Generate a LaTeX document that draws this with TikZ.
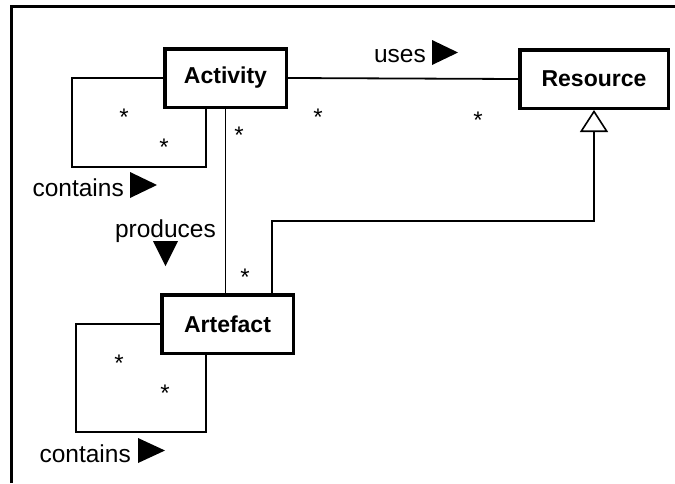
\documentclass[tikz,border=0pt]{standalone}
\usepackage{fontspec}
\setmainfont{Liberation Sans}
\usetikzlibrary{arrows.meta}
\begin{document}
\begin{tikzpicture}[x=1pt,y=-1pt,
  classbox/.style={draw, line width=3.5pt, inner sep=0pt, minimum height=58.5pt,
    font=\fontsize{23}{27}\selectfont\bfseries},
  link/.style={line width=1.8pt},
  rolename/.style={inner sep=0pt, anchor=base east, font=\fontsize{24.5}{28}\selectfont},
  mult/.style={inner sep=0pt, anchor=base, font=\fontsize{24}{28}\selectfont},
  dirmark/.style={fill=black},
  generalize/.style={link, -{Triangle[open, length=22pt, width=28pt, line width=1.6pt]}}
]
\useasboundingbox (0,0) rectangle (675,483);

% frame edges
\draw[line width=2.8pt] (11.5,483) -- (11.5,6.5) -- (675,6.5);

% classes
\node[classbox, minimum width=121.5pt] (activity) at (225.5,78) {Activity};
\node[classbox, minimum width=148.5pt] (resource) at (594,79) {Resource};
\node[classbox, minimum width=131.5pt] (artefact) at (227.5,324) {Artefact};

% associations
\draw[link] (activity.east) -- (resource.west);
\draw[link] (activity.south) -- (activity.south |- artefact.north);

% Activity contains Activity
\coordinate (actcorner) at (72,167);
\coordinate (actback) at (206,109);
\draw[link] (activity.west) -| (actcorner) -| (actback);

% Artefact contains Artefact
\coordinate (artcorner) at (76,432);
\coordinate (artback) at (206,355);
\draw[link] (artefact.west) -| (artcorner) -| (artback);

% Artefact is a Resource
\coordinate (genfoot) at (272,293);
\coordinate (genbend) at (272,221);
\draw[generalize] (genfoot) -- (genbend) -| (resource.south);

% association names with reading direction
\node[rolename] (uses) at (426,62) {uses};
\fill[dirmark] (432,40) -- (458,52.5) -- (432,65) -- cycle;
\node[rolename] (contains1) at (124,196) {contains};
\fill[dirmark] (130,172) -- (157,185) -- (130,198) -- cycle;
\node[rolename] (produces) at (216,237) {produces};
\fill[dirmark] (153,241) -- (178,241) -- (165.5,266) -- cycle;
\node[rolename] (contains2) at (131,462) {contains};
\fill[dirmark] (138,438) -- (165,450.5) -- (138,463) -- cycle;

% multiplicities
\node[mult] (m1) at (124,125.5) {*};
\node[mult] (m2) at (164,155.5) {*};
\node[mult] (m3) at (239,143.5) {*};
\node[mult] (m4) at (245,285.5) {*};
\node[mult] (m5) at (318,125.5) {*};
\node[mult] (m6) at (478,128.5) {*};
\node[mult] (m7) at (119,371.5) {*};
\node[mult] (m8) at (165,401.5) {*};
\end{tikzpicture}
\end{document}
